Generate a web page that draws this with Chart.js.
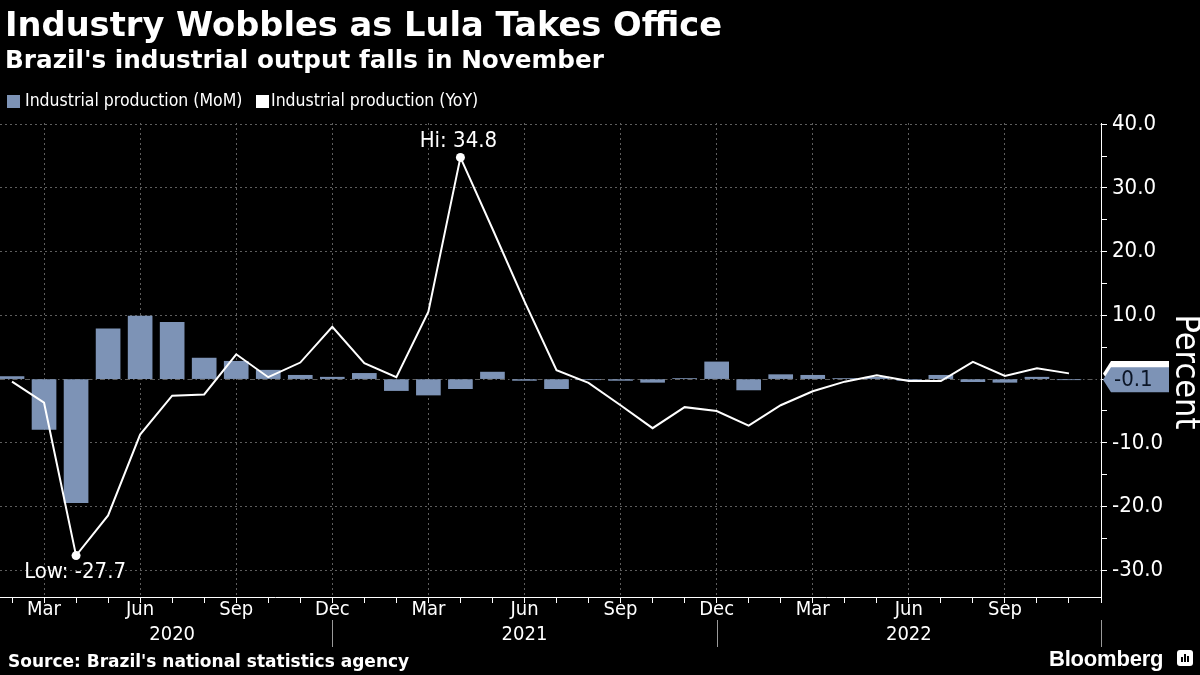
<!DOCTYPE html>
<html><head><meta charset="utf-8">
<script src="https://cdn.jsdelivr.net/npm/chart.js@4/dist/chart.umd.min.js"></script>
<style>
html,body{margin:0;padding:0;background:#000;}
#wrap{position:relative;width:1200px;height:675px;background:#000;overflow:hidden;}
canvas{position:absolute;left:0;top:0;}
.t{position:absolute;color:#fff;white-space:nowrap;line-height:1;}
#title{left:5px;top:8px;font-weight:bold;font-size:33.7px;font-family:'DejaVu Sans',sans-serif;}
#sub{left:5px;top:48px;font-weight:bold;font-size:24.7px;font-family:'DejaVu Sans',sans-serif;}
.lg{top:92px;font-size:17.5px;font-family:'DejaVu Sans Condensed','Liberation Sans',sans-serif;}
.sw{position:absolute;top:95px;width:13px;height:13px;}
#source{left:8px;top:653px;font-weight:bold;font-size:17px;font-family:'DejaVu Sans',sans-serif;}
#bbg{left:1049px;top:648px;font-weight:bold;font-size:22px;font-family:'Liberation Sans',sans-serif;letter-spacing:-0.2px;}
#icon{position:absolute;left:1177px;top:650px;width:16px;height:16px;background:#fff;border-radius:3px;}
#icon i{position:absolute;bottom:4px;width:2px;background:#000;}
</style></head>
<body>
<div id="wrap">
<canvas id="c" width="1200" height="675"></canvas>
<div class="t" id="title">Industry Wobbles as Lula Takes Office</div>
<div class="t" id="sub">Brazil's industrial output falls in November</div>
<div class="sw" style="left:7px;background:#7d93b6"></div>
<div class="t lg" style="left:25px">Industrial production (MoM)</div>
<div class="sw" style="left:256px;background:#fff"></div>
<div class="t lg" style="left:271px">Industrial production (YoY)</div>
<div class="t" id="source">Source: Brazil's national statistics agency</div>
<div class="t" id="bbg">Bloomberg</div>
<div id="icon"><i style="left:4px;height:5px"></i><i style="left:7px;height:8px"></i><i style="left:10px;height:6px"></i></div>
</div>
<script>
// ---- data ----
const categories = [
  '2020-02','2020-03','2020-04','2020-05','2020-06','2020-07','2020-08','2020-09','2020-10','2020-11','2020-12',
  '2021-01','2021-02','2021-03','2021-04','2021-05','2021-06','2021-07','2021-08','2021-09','2021-10','2021-11','2021-12',
  '2022-01','2022-02','2022-03','2022-04','2022-05','2022-06','2022-07','2022-08','2022-09','2022-10','2022-11'
];
const momValues = [
  0.4, -7.9, -19.4, 7.9, 9.9, 8.9, 3.3, 2.8, 1.4, 0.6, 0.3,
  0.9, -1.8, -2.5, -1.5, 1.1, -0.2, -1.5, -0.1, -0.2, -0.5, 0.1, 2.7,
  -1.7, 0.7, 0.6, 0.1, 0.3, -0.2, 0.6, -0.4, -0.5, 0.3, -0.1
];
const yoyValues = [
  -0.4, -3.7, -27.7, -21.4, -8.7, -2.6, -2.4, 3.9, 0.3, 2.6, 8.2,
  2.5, 0.3, 10.6, 34.8, 23.6, 12.2, 1.4, -0.6, -4.1, -7.7, -4.4, -5.0,
  -7.3, -4.1, -1.9, -0.4, 0.6, -0.3, -0.3, 2.7, 0.5, 1.7, 0.9
];
const quarterNames = {2:'Mar', 5:'Jun', 8:'Sep', 11:'Dec'};
const years = ['2020','2021','2022'];

// ---- derived ----
const baseYear = 2020;
const xIdx = categories.map(c => { const [y,m] = c.split('-').map(Number); return (y-baseYear)*12 + (m-1); });
const barData = xIdx.map((x,i) => ({x, y: momValues[i]}));
const lineData = xIdx.map((x,i) => ({x, y: yoyValues[i]}));
const hiI = yoyValues.indexOf(Math.max(...yoyValues));
const loI = yoyValues.indexOf(Math.min(...yoyValues));
const xMin = 0.625, xMax = 35;
const gridCol = '#5e5e5e';
const barCol = '#7d93b6';
const FONT = "'DejaVu Sans Condensed','Liberation Sans',sans-serif";

Chart.defaults.font.family = FONT;
Chart.defaults.color = '#fff';

const decor = {
  id: 'decor',
  beforeDatasetsDraw(chart) {
    const {ctx, chartArea: a, scales: {y}} = chart;
    const y0 = y.getPixelForValue(0);
    ctx.save();
    ctx.strokeStyle = gridCol; ctx.lineWidth = 1;
    ctx.setLineDash([5,3,1.5,3]);
    ctx.beginPath(); ctx.moveTo(a.left, Math.round(y0)+0.5); ctx.lineTo(a.right, Math.round(y0)+0.5); ctx.stroke();
    ctx.restore();
  },
  afterDraw(chart) {
    const {ctx, chartArea: a, scales: {x, y}} = chart;
    ctx.save();
    // year separators + labels
    let prev = xIdx[0];
    years.forEach((yr, k) => {
      const dec = (k+1)*12 - 1;
      const px = Math.round(x.getPixelForValue(dec)) + 0.5;
      ctx.strokeStyle = '#9a9a9a'; ctx.lineWidth = 1;
      ctx.beginPath(); ctx.moveTo(px, 620); ctx.lineTo(px, 647); ctx.stroke();
      const cx = x.getPixelForValue((prev + dec)/2);
      ctx.fillStyle = '#fff'; ctx.font = '20px ' + FONT; ctx.textAlign = 'center'; ctx.textBaseline = 'middle';
      ctx.fillText(yr, cx, 635);
      prev = dec;
    });
    // Hi / Low annotations
    ctx.font = '22px ' + FONT; ctx.fillStyle = '#fff'; ctx.textAlign = 'center'; ctx.textBaseline = 'middle';
    ctx.fillText('Hi: ' + yoyValues[hiI].toFixed(1), x.getPixelForValue(xIdx[hiI]) - 2, y.getPixelForValue(yoyValues[hiI]) - 16);
    ctx.fillText('Low: ' + yoyValues[loI].toFixed(1), x.getPixelForValue(xIdx[loI]) - 1, y.getPixelForValue(yoyValues[loI]) + 17);
    // last-value callouts
    const callout = (cy, fill, text) => {
      const h = 25, tipX = a.right + 2, bodyX = a.right + 10, right = 1169;
      ctx.beginPath(); ctx.moveTo(tipX, cy); ctx.lineTo(bodyX, cy - h/2); ctx.lineTo(right, cy - h/2);
      ctx.lineTo(right, cy + h/2); ctx.lineTo(bodyX, cy + h/2); ctx.closePath();
      ctx.fillStyle = fill; ctx.fill();
      if (text) {
        ctx.fillStyle = '#0b1526'; ctx.font = '22px ' + FONT; ctx.textAlign = 'left'; ctx.textBaseline = 'middle';
        ctx.fillText(text, bodyX + 3, cy + 1);
      }
    };
    const last = categories.length - 1;
    callout(y.getPixelForValue(yoyValues[last]), '#ffffff', null);
    callout(y.getPixelForValue(momValues[last]), barCol, momValues[last].toFixed(1));
    // axis title
    ctx.translate(1185, 372); ctx.rotate(Math.PI/2);
    ctx.fillStyle = '#fff'; ctx.font = '34px ' + FONT; ctx.textAlign = 'center'; ctx.textBaseline = 'middle';
    ctx.fillText('Percent', 0, 0);
    ctx.restore();
  }
};

new Chart(document.getElementById('c'), {
  data: {
    datasets: [
      {type: 'line', label: 'Industrial production (YoY)', data: lineData, borderColor: '#fff', borderWidth: 2,
       pointRadius: c => (c.dataIndex === hiI || c.dataIndex === loI) ? 4.5 : 0,
       pointBackgroundColor: '#fff', pointBorderWidth: 0, tension: 0, order: 0},
      {type: 'bar', label: 'Industrial production (MoM)', data: barData, backgroundColor: barCol,
       barThickness: 24, order: 1}
    ]
  },
  options: {
    responsive: false, animation: false, devicePixelRatio: 1,
    layout: {padding: {top: 123, left: 0, right: 0, bottom: 0}},
    plugins: {legend: {display: false}, tooltip: {enabled: false}, title: {display: false}},
    scales: {
      x: {
        type: 'linear', position: 'bottom', min: xMin, max: xMax, offset: false,
        afterFit: s => { s.height = 78; },
        ticks: {stepSize: 1, autoSkip: false, maxRotation: 0, minRotation: 0, includeBounds: false,
                color: '#fff', font: {size: 20, lineHeight: 1}, padding: -3,
                callback: v => (v >= xMax) ? '' : (quarterNames[((v % 12) + 12) % 12] || '')},
        grid: {color: c => (c.tick && quarterNames[((c.tick.value % 12) + 12) % 12]) ? gridCol : 'rgba(0,0,0,0)',
               tickColor: '#fff', tickLength: 6, lineWidth: 1, drawOnChartArea: true, offset: false},
        border: {color: '#fff', width: 1, dash: [2,3]}
      },
      y: {
        type: 'linear', position: 'right', min: -34.2, max: 40.2,
        afterFit: s => { s.width = 99; },
        ticks: {stepSize: 5, includeBounds: false, color: '#fff', font: {size: 22}, padding: 5,
                callback: v => (v % 10 === 0) ? v.toFixed(1) : ''},
        grid: {color: c => (c.tick && c.tick.value % 10 === 0 && c.tick.value !== 0) ? gridCol : 'rgba(0,0,0,0)',
               tickColor: '#fff', tickLength: 6, lineWidth: 1, drawOnChartArea: true},
        border: {color: '#fff', width: 1, dash: [2,3]}
      }
    }
  },
  plugins: [decor]
});
</script>
</body></html>
